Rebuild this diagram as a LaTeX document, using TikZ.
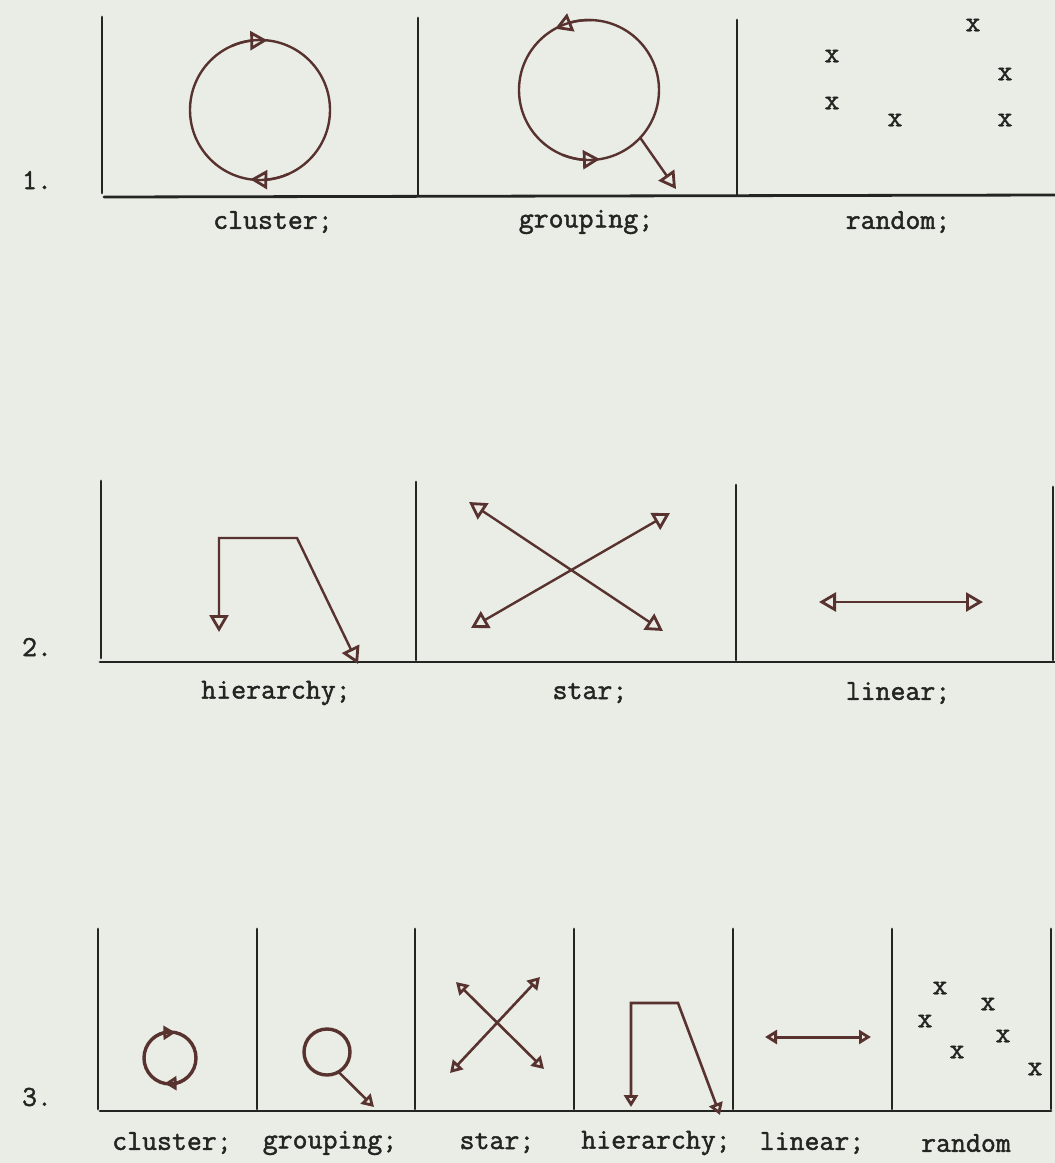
\documentclass[tikz,border=0pt]{standalone}
\usepackage{fontspec}
\newfontfamily\typew{Latin Modern Mono}[FakeBold=1.6]
\usetikzlibrary{arrows.meta,bending,calc}
\definecolor{paper}{RGB}{234,236,230}
\definecolor{ink}{RGB}{36,36,34}
\definecolor{penc}{RGB}{88,50,47}
\tikzset{
  frame/.style={draw=ink, line width=2.8pt, line cap=round},
  lab/.style={font=\typew\fontsize{29}{29}\selectfont, text=ink, inner sep=0pt},
  xmark/.style={font=\typew\fontsize{29}{29}\selectfont, text=ink, inner sep=0pt},
  pen/.style={draw=penc, line width=2.4pt},
  penthick/.style={draw=penc, line width=3.4pt},
  bigtip/.style={-{Triangle[open,length=17pt,width=19pt,line width=2.8pt]}},
  bigboth/.style={{Triangle[open,length=17pt,width=19pt,line width=2.8pt]}-{Triangle[open,length=17pt,width=19pt,line width=2.8pt]}},
  smalltip/.style={-{Triangle[open,length=12pt,width=14pt,line width=2.8pt]}},
  smallboth/.style={{Triangle[open,length=12pt,width=14pt,line width=2.8pt]}-{Triangle[open,length=12pt,width=14pt,line width=2.8pt]}},
  ring/.style={circle, inner sep=0pt, outer sep=0pt},
}
\begin{document}
\begin{tikzpicture}[x=1pt,y=-1pt]
\fill[paper] (0,0) rectangle (1055,1163);
\useasboundingbox (0,0) rectangle (1055,1163);

% ---------------- Row 1 ----------------
\draw[frame] (102,17) -- (102,193);
\draw[frame] (418,18) -- (418,195);
\draw[frame] (737,20) -- (737,195);
\draw[frame] (104,197) -- (1055,195);
\node[lab] (n1) at (37,180) {1.};

% cluster (page angle p written as -p in arcs because y is flipped)
\node[ring, pen, minimum size=140pt] (c1) at (260,110) {};
\draw[pen, bigtip] (c1.114) arc[start angle=-114, end angle=-84, radius=70];
\draw[pen, bigtip] (c1.294) arc[start angle=-294, end angle=-262, radius=70];
\node[lab] (l11) at (273,222) {cluster;};

% grouping
\node[ring, pen, minimum size=140pt] (g1) at (589,90) {};
\draw[pen, bigtip] (g1.88) arc[start angle=-88, end angle=-119, radius=70];
\draw[pen, bigtip] (g1.248) arc[start angle=-248, end angle=-279, radius=70];
\coordinate (g1e) at (676,189);
\draw[pen, bigtip] (g1.-43) -- (g1e);
\node[lab] (l12) at (586,222) {grouping;};

% random
\node[xmark] (r1) at (973,25) {x};
\node[xmark] (r2) at (832,56) {x};
\node[xmark] (r3) at (1005,74) {x};
\node[xmark] (r4) at (832,103) {x};
\node[xmark] (r5) at (895,120) {x};
\node[xmark] (r6) at (1005,120) {x};
\node[lab] (l13) at (898,222) {random;};

% ---------------- Row 2 ----------------
\draw[frame] (101,481) -- (101,658);
\draw[frame] (416,482) -- (416,660);
\draw[frame] (736,485) -- (736,660);
\draw[frame] (1053,487) -- (1053,660);
\draw[frame] (100,662) -- (1055,662);
\node[lab] (n2) at (37,647) {2.};

% hierarchy
\coordinate (h1) at (219,538);
\coordinate (h2) at (297,538);
\coordinate (h1e) at (219,632);
\coordinate (h2e) at (358,664);
\draw[pen, bigboth] (h1e) -- (h1) -- (h2) -- (h2e);
\node[lab] (l21) at (276,693) {hierarchy;};

% star
\coordinate (s1) at (469,502);
\coordinate (s2) at (663,631);
\coordinate (s3) at (670,513);
\coordinate (s4) at (471,628);
\draw[pen, bigboth] (s1) -- (s2);
\draw[pen, bigboth] (s3) -- (s4);
\node[lab] (l22) at (590,693) {star;};

% linear
\coordinate (li1) at (819,602);
\coordinate (li2) at (983,602);
\draw[pen, bigboth] (li1) -- (li2);
\node[lab] (l23) at (898,693) {linear;};

% ---------------- Row 3 ----------------
\foreach \xx in {98,257,415,574,733,892,1051}
  \draw[frame] (\xx,929) -- (\xx,1109);
\draw[frame] (100,1111) -- (1051,1111);
\node[lab] (n3) at (37,1097) {3.};

% cluster small
\node[ring, penthick, minimum size=52pt] (c3) at (170,1058) {};
\draw[pen, line width=3pt, smalltip] (c3.130) arc[start angle=-130, end angle=-78, radius=26];
\draw[pen, line width=3pt, smalltip] (c3.310) arc[start angle=-310, end angle=-258, radius=26];

% grouping small
\node[ring, penthick, minimum size=46pt] (g3) at (327,1052) {};
\coordinate (g3e) at (374,1107);
\draw[pen, line width=2.6pt, smalltip] (g3.-60) -- (g3e);

% star small
\coordinate (t1) at (456,982);
\coordinate (t2) at (544,1069);
\coordinate (t3) at (540,977);
\coordinate (t4) at (450,1073);
\draw[pen, line width=2.6pt, smallboth] (t1) -- (t2);
\draw[pen, line width=2.6pt, smallboth] (t3) -- (t4);

% hierarchy small
\coordinate (k1) at (631,1003);
\coordinate (k2) at (678,1003);
\coordinate (k1e) at (631,1107);
\coordinate (k2e) at (720,1115);
\draw[pen, line width=2.6pt, smallboth] (k1e) -- (k1) -- (k2) -- (k2e);

% linear small
\coordinate (m1) at (765,1037);
\coordinate (m2) at (871,1037);
\draw[pen, line width=3pt, smallboth] (m1) -- (m2);

% random small
\node[xmark] (q1) at (940,988) {x};
\node[xmark] (q2) at (988,1004) {x};
\node[xmark] (q3) at (925,1021) {x};
\node[xmark] (q4) at (1003,1036) {x};
\node[xmark] (q5) at (957,1052) {x};
\node[xmark] (q6) at (1035,1069) {x};

\node[lab] (l31) at (172,1143) {cluster;};
\node[lab] (l32) at (330,1143) {grouping;};
\node[lab] (l33) at (497,1143) {star;};
\node[lab] (l34) at (656,1143) {hierarchy;};
\node[lab] (l35) at (812,1143) {linear;};
\node[lab] (l36) at (966,1143) {random};
\end{tikzpicture}
\end{document}
